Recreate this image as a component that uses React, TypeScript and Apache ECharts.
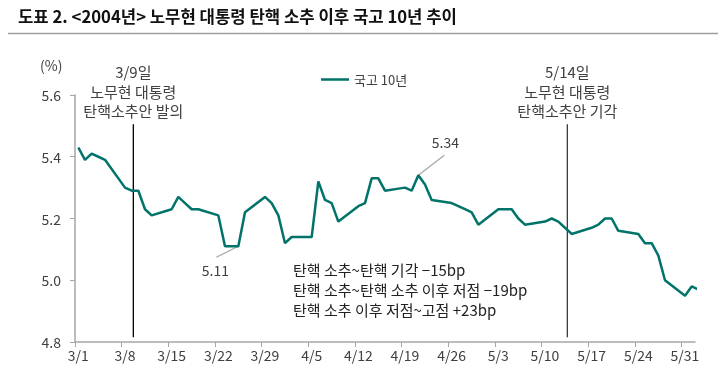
import { useEffect, useRef } from 'react';
import * as echarts from 'echarts';

const TITLE = '도표 2. <2004년> 노무현 대통령 탄핵 소추 이후 국고 10년 추이';
const SERIES_NAME = '국고 10년';
const UNIT = '(%)';

const dates = [
  '3/1', '3/2', '3/3', '3/4', '3/5',
  '3/8', '3/9', '3/10', '3/11', '3/12',
  '3/15', '3/16', '3/17', '3/18', '3/19',
  '3/22', '3/23', '3/24', '3/25', '3/26',
  '3/29', '3/30', '3/31', '4/1', '4/2',
  '4/5', '4/6', '4/7', '4/8', '4/9',
  '4/12', '4/13', '4/14', '4/15', '4/16',
  '4/19', '4/20', '4/21', '4/22', '4/23',
  '4/26', '4/27', '4/28', '4/29', '4/30',
  '5/3', '5/4', '5/5', '5/6', '5/7',
  '5/10', '5/11', '5/12', '5/13', '5/14',
  '5/17', '5/18', '5/19', '5/20', '5/21',
  '5/24', '5/25', '5/26', '5/27', '5/28',
  '5/31', '6/1', '6/2',
];
const values = [
  5.43, 5.39, 5.41, 5.40, 5.39,
  5.30, 5.29, 5.29, 5.23, 5.21,
  5.23, 5.27, 5.25, 5.23, 5.23,
  5.21, 5.11, 5.11, 5.11, 5.22,
  5.27, 5.25, 5.21, 5.12, 5.14,
  5.14, 5.32, 5.26, 5.25, 5.19,
  5.24, 5.25, 5.33, 5.33, 5.29,
  5.30, 5.29, 5.34, 5.31, 5.26,
  5.25, 5.24, 5.23, 5.22, 5.18,
  5.23, 5.23, 5.23, 5.20, 5.18,
  5.19, 5.20, 5.19, 5.17, 5.15,
  5.17, 5.18, 5.20, 5.20, 5.16,
  5.15, 5.12, 5.12, 5.08, 5.00,
  4.95, 4.98, 4.97,
];

const xTickLabels = ['3/1', '3/8', '3/15', '3/22', '3/29', '4/5', '4/12', '4/19', '4/26', '5/3', '5/10', '5/17', '5/24', '5/31'];
const X_END = '6/3';
const Y_MIN = 4.8;
const Y_MAX = 5.6;
const Y_STEP = 0.2;

const events = [
  { date: '3/9', shift: 0.75, lines: ['3/9일', '노무현 대통령', '탄핵소추안 발의'], color: '#000000' },
  { date: '5/14', shift: -0.15, lines: ['5/14일', '노무현 대통령', '탄핵소추안 기각'], color: '#3a3a3a' },
];
const callouts = [
  { date: '4/21', text: '5.34', dx: 26, dy: -20, ldx: 27, ldy: -33 },
  { date: '3/25', text: '5.11', dx: -22, dy: 11, ldx: -23, ldy: 24 },
];
const noteLines = [
  '탄핵 소추~탄핵 기각 −15bp',
  '탄핵 소추~탄핵 소추 이후 저점 −19bp',
  '탄핵 소추 이후 저점~고점 +23bp',
];

const FONT = "'Noto Sans CJK KR', 'Noto Sans', sans-serif";
const LINE_COLOR = '#00736a';
const TEXT_COLOR = '#404040';
const AXIS_COLOR = '#a6a6a6';
const DAY_CENTER = 0.5;

const DAY_MS = 86400000;
const BASE = Date.UTC(2004, 2, 1);
function dayIndex(s: string): number {
  const [m, d] = s.split('/').map(Number);
  return (Date.UTC(2004, m - 1, d) - BASE) / DAY_MS;
}
function labelOf(v: number): string {
  const dt = new Date(BASE + Math.floor(v) * DAY_MS);
  return `${dt.getUTCMonth() + 1}/${dt.getUTCDate()}`;
}

export default function App() {
  const ref = useRef<HTMLDivElement>(null);
  useEffect(() => {
    if (!ref.current) return;
    const chart = echarts.init(ref.current, null, { renderer: 'svg' });
    const data = dates.map((d, i) => [dayIndex(d) + DAY_CENTER, values[i]]);
    const tickVals = xTickLabels.map((d) => dayIndex(d));
    const labelVals = xTickLabels.map((d) => dayIndex(d) + DAY_CENTER);

    chart.setOption({
      animation: false,
      textStyle: { fontFamily: FONT },
      grid: { left: 75, right: 31, top: 95, bottom: 39 },
      legend: {
        data: [{ name: SERIES_NAME, icon: 'rect' }],
        left: 316,
        top: 68,
        itemWidth: 28,
        itemHeight: 2.5,
        itemGap: 6,
        textStyle: { fontSize: 13, color: TEXT_COLOR, fontFamily: FONT },
      },
      xAxis: {
        type: 'value',
        min: 0,
        max: dayIndex(X_END) - 1,
        axisLine: { show: true, lineStyle: { color: AXIS_COLOR, width: 1.5 } },
        axisTick: { show: true, customValues: tickVals, length: 5, lineStyle: { color: AXIS_COLOR, width: 1 } },
        axisLabel: {
          customValues: labelVals,
          formatter: (v: number) => labelOf(v),
          color: TEXT_COLOR,
          fontSize: 14,
          margin: 6,
          fontFamily: FONT,
        },
        splitLine: { show: false },
      },
      yAxis: {
        type: 'value',
        min: Y_MIN,
        max: Y_MAX,
        interval: Y_STEP,
        axisLine: { show: true, lineStyle: { color: AXIS_COLOR, width: 1.5 } },
        axisTick: { show: true, length: 5, lineStyle: { color: AXIS_COLOR, width: 1 } },
        axisLabel: {
          formatter: (v: number) => v.toFixed(1),
          color: TEXT_COLOR,
          fontSize: 14,
          margin: 14,
          fontFamily: FONT,
        },
        splitLine: { show: false },
      },
      series: [
        {
          type: 'line',
          name: SERIES_NAME,
          data,
          symbol: 'none',
          showSymbol: false,
          clip: true,
          lineStyle: { color: LINE_COLOR, width: 2.5 },
          itemStyle: { color: LINE_COLOR },
        },
      ],
    });

    const px = (x: number, y: number) => chart.convertToPixel({ gridIndex: 0 }, [x, y]) as number[];
    const graphic: any[] = [
      {
        type: 'text',
        left: 18,
        top: 8,
        style: { text: TITLE, fontSize: 16.7, fontWeight: 'bold', fill: '#111', fontFamily: FONT },
      },
      {
        type: 'line',
        shape: { x1: 8, y1: 33.5, x2: 718, y2: 33.5 },
        style: { stroke: '#a0a0a0', lineWidth: 1.5 },
      },
      {
        type: 'text',
        x: 40,
        y: 58,
        style: { text: UNIT, fontSize: 14, fill: TEXT_COLOR, fontFamily: FONT },
      },
    ];
    events.forEach((ev) => {
      const xv = dayIndex(ev.date) + ev.shift;
      const top = px(xv, 5.505);
      const bot = px(xv, 4.815);
      graphic.push({
        type: 'line',
        shape: { x1: top[0], y1: top[1], x2: bot[0], y2: bot[1] },
        style: { stroke: ev.color, lineWidth: 1.3 },
      });
      graphic.push({
        type: 'text',
        x: top[0],
        y: 62,
        style: {
          text: ev.lines.join('\n'),
          fontSize: 15,
          lineHeight: 19.5,
          align: 'center',
          verticalAlign: 'top',
          fill: TEXT_COLOR,
          fontFamily: FONT,
        },
      });
    });
    callouts.forEach((c) => {
      const i = dates.indexOf(c.date);
      const p = px(dayIndex(c.date) + DAY_CENTER, values[i]);
      graphic.push({
        type: 'line',
        shape: { x1: p[0], y1: p[1], x2: p[0] + c.dx, y2: p[1] + c.dy },
        style: { stroke: '#a6a6a6', lineWidth: 1.2 },
      });
      graphic.push({
        type: 'text',
        x: p[0] + c.ldx,
        y: p[1] + c.ldy,
        style: {
          text: c.text,
          fontSize: 14,
          align: 'center',
          verticalAlign: 'middle',
          fill: TEXT_COLOR,
          fontFamily: FONT,
        },
      });
    });
    graphic.push({
      type: 'text',
      x: 293,
      y: 259,
      style: {
        text: noteLines.join('\n'),
        fontSize: 15,
        lineHeight: 20,
        verticalAlign: 'top',
        fill: '#222',
        fontFamily: FONT,
      },
    });
    chart.setOption({ graphic });

    return () => chart.dispose();
  }, []);
  return <div ref={ref} style={{ position: 'fixed', left: 0, top: 0, width: 726, height: 381 }} />;
}
